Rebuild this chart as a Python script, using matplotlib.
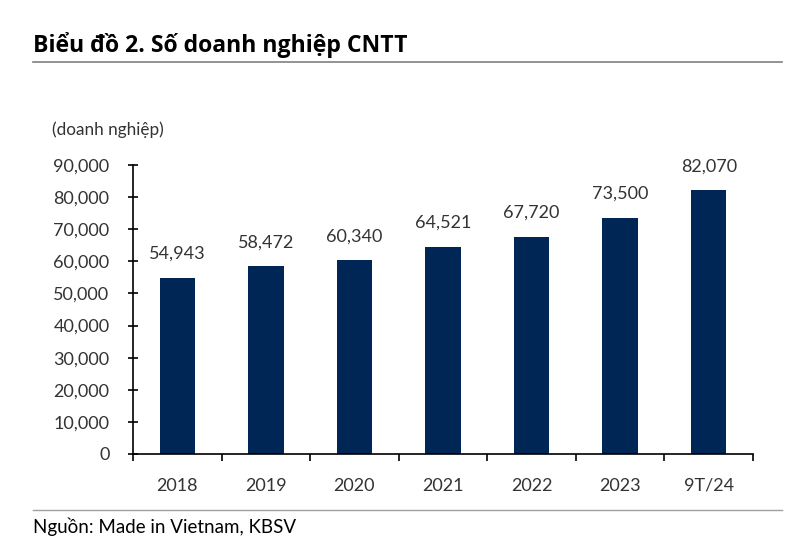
import matplotlib.pyplot as plt
import matplotlib.lines as mlines
import numpy as np

# data
categories = ["2018", "2019", "2020", "2021", "2022", "2023", "9T/24"]
values = [54943, 58472, 60340, 64521, 67720, 73500, 82070]
labels = ["54,943", "58,472", "60,340", "64,521", "67,720", "73,500", "82,070"]
yticks = [0, 10000, 20000, 30000, 40000, 50000, 60000, 70000, 80000, 90000]

plt.rcParams["font.family"] = ["Lato", "DejaVu Sans"]
bar_color = "#002656"
text_color = "#333333"
fs = 13

fig = plt.figure(figsize=(8, 5.59), dpi=100)
ax = fig.add_axes([133 / 800, 1 - 454 / 559, 620 / 800, 289 / 559])

x = np.arange(len(categories))
ax.bar(x, values, width=0.4, color=bar_color)
for xi, v, lab in zip(x, values, labels):
    ax.text(xi, v + 5000, lab, ha="center", va="bottom", fontsize=fs, color=text_color)

ax.set_xlim(-0.5, len(categories) - 0.5)
ax.set_ylim(0, 90000)
ax.set_yticks(yticks)
ax.set_yticklabels([f"{t:,}" for t in yticks], fontsize=fs, color=text_color)
ax.tick_params(axis="y", direction="inout", length=7, width=1.2, pad=13.5)

# category labels centred, ticks on category boundaries
ax.set_xticks(np.arange(len(categories) + 1) - 0.5)
ax.set_xticklabels([])
ax.tick_params(axis="x", direction="out", length=5, width=1.2)
ax.set_xticks(x, minor=True)
ax.set_xticklabels(categories, minor=True, fontsize=fs, color=text_color)
ax.tick_params(axis="x", which="minor", length=0, pad=17)

for s in ["top", "right"]:
    ax.spines[s].set_visible(False)
ax.spines["left"].set_linewidth(1.2)
ax.spines["bottom"].set_linewidth(1.2)

fig.text(52 / 800, 1 - 130 / 559, "(doanh nghiệp)", fontsize=12.3, color=text_color,
         ha="left", va="center")

fig.text(33 / 800, 1 - 45 / 559, "Biểu đồ 2. Số doanh nghiệp CNTT", fontsize=16.6,
         fontweight="bold", family=["Open Sans", "DejaVu Sans"], color="black",
         ha="left", va="center")
fig.add_artist(mlines.Line2D([33 / 800, 782 / 800], [1 - 62 / 559] * 2,
                             color="#808080", linewidth=1.2))
fig.add_artist(mlines.Line2D([33 / 800, 782 / 800], [1 - 510 / 559] * 2,
                             color="#a0a0a0", linewidth=1.0))
fig.text(33 / 800, 1 - 527 / 559, "Nguồn: Made in Vietnam, KBSV", fontsize=13.5,
         color="black", ha="left", va="center")

fig.savefig("out.png", dpi=100)
